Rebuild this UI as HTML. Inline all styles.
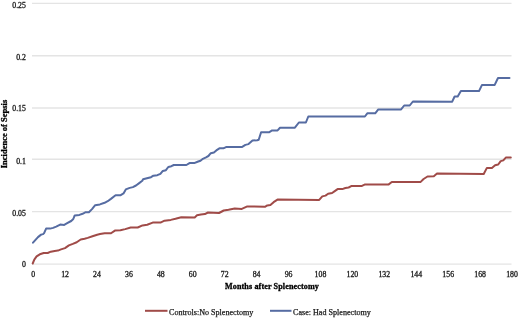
<!DOCTYPE html>
<html><head><meta charset="utf-8"><style>
html,body{margin:0;padding:0;background:#fff;}
svg{display:block;will-change:transform;}
.g{stroke:#e4e4e4;stroke-width:1.4;}
.t{font-family:"Liberation Serif",serif;font-size:7.8px;fill:#1a1a1a;stroke:#1a1a1a;stroke-width:0.3px;}
.b{font-family:"Liberation Serif",serif;font-weight:bold;font-size:8.5px;fill:#000;stroke:#000;stroke-width:0.3px;}
.l{font-family:"Liberation Serif",serif;font-size:8.1px;fill:#1a1a1a;stroke:#1a1a1a;stroke-width:0.25px;}
</style></head><body>
<svg width="520" height="318" viewBox="0 0 520 318">
<rect width="520" height="318" fill="#fff"/>
<line x1="32" y1="264.10" x2="511.5" y2="264.10" class="g"/>
<line x1="32" y1="211.60" x2="511.5" y2="211.60" class="g"/>
<line x1="32" y1="159.30" x2="511.5" y2="159.30" class="g"/>
<line x1="32" y1="108.00" x2="511.5" y2="108.00" class="g"/>
<line x1="32" y1="55.80" x2="511.5" y2="55.80" class="g"/>
<line x1="32" y1="3.40" x2="511.5" y2="3.40" class="g"/>
<text x="25.9" y="267.20" class="t" text-anchor="end">0</text>
<text x="25.9" y="215.60" class="t" text-anchor="end">0.05</text>
<text x="25.9" y="163.80" class="t" text-anchor="end">0.1</text>
<text x="25.9" y="110.90" class="t" text-anchor="end">0.15</text>
<text x="25.9" y="60.10" class="t" text-anchor="end">0.2</text>
<text x="25.9" y="7.90" class="t" text-anchor="end">0.25</text>
<text x="33.10" y="277.3" class="t" text-anchor="middle">0</text>
<text x="65.03" y="277.3" class="t" text-anchor="middle">12</text>
<text x="96.96" y="277.3" class="t" text-anchor="middle">24</text>
<text x="128.89" y="277.3" class="t" text-anchor="middle">36</text>
<text x="160.82" y="277.3" class="t" text-anchor="middle">48</text>
<text x="192.75" y="277.3" class="t" text-anchor="middle">60</text>
<text x="224.68" y="277.3" class="t" text-anchor="middle">72</text>
<text x="256.61" y="277.3" class="t" text-anchor="middle">84</text>
<text x="288.54" y="277.3" class="t" text-anchor="middle">96</text>
<text x="320.47" y="277.3" class="t" text-anchor="middle">108</text>
<text x="352.40" y="277.3" class="t" text-anchor="middle">120</text>
<text x="384.33" y="277.3" class="t" text-anchor="middle">132</text>
<text x="416.26" y="277.3" class="t" text-anchor="middle">144</text>
<text x="448.19" y="277.3" class="t" text-anchor="middle">156</text>
<text x="480.12" y="277.3" class="t" text-anchor="middle">168</text>
<text x="512.05" y="277.3" class="t" text-anchor="middle">180</text>
<polyline points="32.7,263.5 34.3,259.6 36.6,256.4 39.8,254.3 43.7,253 47.7,253 50.8,251.7 54.7,250.9 57.9,250.6 61,249.4 65,248.1 68.9,245.4 72.8,243.9 76.7,242.3 80.7,239.5 84.6,238.8 87.7,237.9 92.5,236.3 97.2,234.7 100,234.1 104.7,233.3 111,233.3 114.9,230.6 120.4,230.2 125.2,229.1 130.7,227.5 137.7,227.5 142.5,225.4 147.2,224.7 152.7,222.6 160.5,222.6 164.5,220.7 170.8,219.9 175.5,218.8 181.3,217.2 194.7,217.5 197,215.3 200.9,214.6 204.9,214.1 208,212.5 219,213 223.7,210.5 228.5,209.8 234.7,208.6 241.8,208.9 247.3,206.4 264.9,206.8 267.3,205.4 270.4,205.1 273.6,202.2 277.5,199.6 319.2,199.9 322.3,196.4 325.5,195.6 328.1,193.8 332.1,193 334.4,191.4 337.6,189.1 342.3,189.1 345.4,188 348.6,187.5 351.7,185.9 362,185.9 365.1,184.4 388.7,184.4 391.8,182 420.4,182.1 423.6,179 427.5,176.5 433.8,176.2 437,173.5 483.7,174 486.9,167.9 491.9,167.9 495.1,165.2 498.2,164.5 500.7,161.1 503.3,160.4 505.8,157.6 510.8,157.6" fill="none" stroke="#a04b48" stroke-width="2" stroke-linejoin="round" stroke-linecap="round"/>
<polyline points="33,242.7 38,237.1 41.1,234.6 43.1,234.1 44.1,233.1 46.1,228.6 50.1,228.6 53.1,227.9 56.2,226.6 60.2,224.6 64.2,224.9 67.2,223.2 71.2,221 73.3,219 74.7,215.4 79.4,214.9 82.6,213.8 85.7,212.2 88.9,212.2 92,209.1 95.2,205.2 99.9,204.4 104.6,202.8 107.7,201.2 110.9,198.9 115.6,195.3 120.3,195.3 123.5,193.4 125.8,189.4 129.7,187.9 132.9,187.1 136,185.5 139.2,183.1 142.3,180.8 143.1,179.3 147.9,178 151,177.2 153.4,175.7 157.3,175.2 160.4,173.8 162.8,170.9 165.9,170.2 168.3,167 171.4,166.2 173.8,165 186.4,165 189.5,163.1 194.2,163.1 198.2,161.5 200.5,160.7 202.9,158.8 206,157.3 208.4,156 210.8,153.2 213.9,152.5 216.3,150.4 219.4,148.3 223.4,148.3 226.5,146.9 242.2,146.9 245.4,144.9 248.5,144.1 252.5,140.5 257.2,140.2 258.7,139.7 261.1,132.3 269,132.3 272.1,130.4 277.6,130.4 280,127.8 294.9,127.7 298.9,122.5 305.9,122.5 308.3,116.5 364.9,116.5 367.3,113.3 375.2,113.3 378.3,109.4 401.1,109.4 404.2,105.5 409.7,105.5 412.9,101.5 452.2,101.7 454.6,96.5 457.7,96.5 460.9,91 479,91.1 482,84.9 494.7,84.9 498,78 509.5,78" fill="none" stroke="#566ca2" stroke-width="2" stroke-linejoin="round" stroke-linecap="round"/>
<text x="225" y="289.4" class="b" style="font-size:8.1px" letter-spacing="0.12">Months after Splenectomy</text>
<text transform="translate(7.2,134) rotate(-90)" class="b" text-anchor="middle">Incidence of Sepsis</text>
<line x1="145" y1="310.8" x2="167.5" y2="310.8" stroke="#a04b48" stroke-width="2"/>
<text x="169" y="314.5" class="l">Controls:No Splenectomy</text>
<line x1="270" y1="310.8" x2="291.5" y2="310.8" stroke="#566ca2" stroke-width="2"/>
<text x="293" y="314.5" class="l">Case: Had Splenectomy</text>
</svg>
</body></html>
